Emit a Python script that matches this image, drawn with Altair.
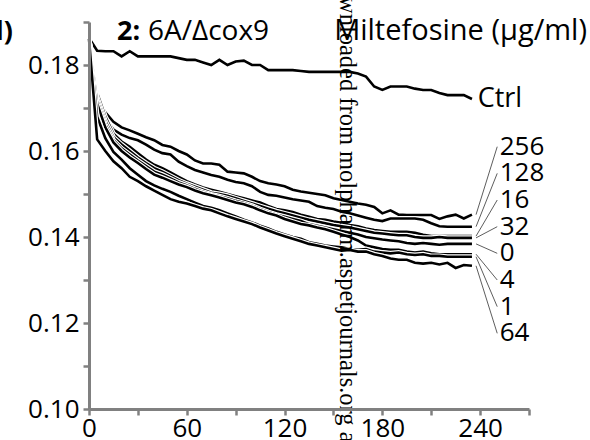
import altair as alt
import pandas as pd

times = [0, 5, 10, 15, 20, 25, 30, 35, 40, 45, 50, 55, 60, 65, 70, 75, 80, 85, 90, 95,
         100, 105, 110, 115, 120, 125, 130, 135, 140, 145, 150, 155, 160, 165, 170, 175,
         180, 185, 190, 195, 200, 205, 210, 215, 220, 225, 230, 235]

ctrl = [0.1863, 0.1833, 0.1832, 0.1832, 0.1820, 0.1832, 0.1820, 0.1820, 0.1820, 0.1820,
        0.1820, 0.1816, 0.1812, 0.1812, 0.1806, 0.1800, 0.1812, 0.1800, 0.1808, 0.1810,
        0.1800, 0.1800, 0.1788, 0.1788, 0.1788, 0.1788, 0.1786, 0.1784, 0.1784, 0.1784,
        0.1784, 0.1784, 0.1784, 0.1780, 0.1773, 0.1750, 0.1742, 0.1750, 0.1750, 0.1750,
        0.1745, 0.1742, 0.1742, 0.1735, 0.1730, 0.1730, 0.1730, 0.1721]
c256 = [0.1860, 0.1720, 0.1690, 0.1668, 0.1655, 0.1648, 0.1640, 0.1632, 0.1625, 0.1614,
        0.1610, 0.1600, 0.1592, 0.1578, 0.1571, 0.1571, 0.1568, 0.1552, 0.1550, 0.1548,
        0.1540, 0.1530, 0.1525, 0.1522, 0.1518, 0.1510, 0.1506, 0.1503, 0.1500, 0.1497,
        0.1490, 0.1486, 0.1482, 0.1478, 0.1475, 0.1470, 0.1455, 0.1462, 0.1452, 0.1451,
        0.1451, 0.1451, 0.1451, 0.1442, 0.1448, 0.1452, 0.1443, 0.1452]
c128 = [0.1860, 0.1700, 0.1675, 0.1650, 0.1638, 0.1630, 0.1625, 0.1615, 0.1603, 0.1595,
        0.1592, 0.1575, 0.1565, 0.1556, 0.1550, 0.1544, 0.1540, 0.1533, 0.1528, 0.1525,
        0.1518, 0.1505, 0.1498, 0.1496, 0.1492, 0.1488, 0.1485, 0.1482, 0.1472, 0.1468,
        0.1465, 0.1459, 0.1455, 0.1450, 0.1445, 0.1440, 0.1437, 0.1443, 0.1443, 0.1443,
        0.1443, 0.1440, 0.1432, 0.1425, 0.1424, 0.1424, 0.1424, 0.1424]
c16 = [0.1860, 0.1735, 0.1680, 0.1640, 0.1622, 0.1610, 0.1595, 0.1580, 0.1568, 0.1560,
       0.1550, 0.1540, 0.1530, 0.1522, 0.1515, 0.1510, 0.1505, 0.1500, 0.1495, 0.1490,
       0.1485, 0.1480, 0.1472, 0.1465, 0.1462, 0.1458, 0.1452, 0.1447, 0.1442, 0.1440,
       0.1436, 0.1433, 0.1428, 0.1425, 0.1420, 0.1416, 0.1414, 0.1412, 0.1412, 0.1412,
       0.1410, 0.1405, 0.1402, 0.1402, 0.1402, 0.1402, 0.1402, 0.1402]
c32 = [0.1860, 0.1725, 0.1670, 0.1632, 0.1615, 0.1600, 0.1585, 0.1572, 0.1560, 0.1552,
       0.1542, 0.1532, 0.1524, 0.1517, 0.1510, 0.1503, 0.1500, 0.1496, 0.1490, 0.1484,
       0.1478, 0.1472, 0.1466, 0.1460, 0.1455, 0.1450, 0.1445, 0.1440, 0.1436, 0.1432,
       0.1428, 0.1425, 0.1422, 0.1418, 0.1414, 0.1410, 0.1408, 0.1406, 0.1404, 0.1404,
       0.1400, 0.1398, 0.1398, 0.1400, 0.1398, 0.1398, 0.1398, 0.1398]
c0 = [0.1860, 0.1718, 0.1662, 0.1625, 0.1606, 0.1592, 0.1578, 0.1565, 0.1552, 0.1545,
      0.1536, 0.1527, 0.1520, 0.1512, 0.1505, 0.1499, 0.1495, 0.1490, 0.1484, 0.1479,
      0.1473, 0.1465, 0.1458, 0.1452, 0.1447, 0.1442, 0.1437, 0.1430, 0.1426, 0.1422,
      0.1418, 0.1414, 0.1410, 0.1406, 0.1400, 0.1397, 0.1394, 0.1392, 0.1390, 0.1386,
      0.1384, 0.1386, 0.1384, 0.1382, 0.1384, 0.1384, 0.1384, 0.1384]
c4 = [0.1860, 0.1710, 0.1655, 0.1620, 0.1600, 0.1585, 0.1572, 0.1558, 0.1545, 0.1538,
      0.1530, 0.1522, 0.1516, 0.1508, 0.1502, 0.1497, 0.1492, 0.1486, 0.1480, 0.1476,
      0.1470, 0.1462, 0.1455, 0.1450, 0.1442, 0.1436, 0.1430, 0.1427, 0.1422, 0.1418,
      0.1412, 0.1406, 0.1400, 0.1392, 0.1380, 0.1376, 0.1372, 0.1370, 0.1370, 0.1366,
      0.1364, 0.1366, 0.1362, 0.1360, 0.1360, 0.1360, 0.1360, 0.1360]
c1 = [0.1860, 0.1680, 0.1630, 0.1598, 0.1580, 0.1560, 0.1545, 0.1530, 0.1520, 0.1512,
      0.1505, 0.1496, 0.1488, 0.1480, 0.1472, 0.1468, 0.1462, 0.1455, 0.1448, 0.1440,
      0.1434, 0.1426, 0.1420, 0.1412, 0.1406, 0.1400, 0.1396, 0.1388, 0.1384, 0.1380,
      0.1378, 0.1376, 0.1372, 0.1370, 0.1372, 0.1366, 0.1364, 0.1362, 0.1364, 0.1360,
      0.1358, 0.1360, 0.1356, 0.1356, 0.1354, 0.1354, 0.1354, 0.1354]
c64 = [0.1860, 0.1627, 0.1600, 0.1576, 0.1560, 0.1540, 0.1530, 0.1518, 0.1508, 0.1498,
       0.1488, 0.1482, 0.1478, 0.1472, 0.1466, 0.1462, 0.1455, 0.1448, 0.1442, 0.1436,
       0.1430, 0.1422, 0.1415, 0.1408, 0.1402, 0.1396, 0.1390, 0.1384, 0.1380, 0.1376,
       0.1372, 0.1368, 0.1370, 0.1366, 0.1366, 0.1360, 0.1356, 0.1350, 0.1347, 0.1347,
       0.1340, 0.1338, 0.1340, 0.1336, 0.1340, 0.1328, 0.1335, 0.1333]

series_names = ["Ctrl", "256", "128", "16", "32", "0", "4", "1", "64"]
series_values = [ctrl, c256, c128, c16, c32, c0, c4, c1, c64]
label_names = ["256", "128", "16", "32", "0", "4", "1", "64"]

y_ticks = [0.10, 0.11, 0.12, 0.13, 0.14, 0.15, 0.16, 0.17, 0.18, 0.19]
x_ticks = [0, 30, 60, 90, 120, 150, 180, 210, 240, 270]

rows = []
for name, vals in zip(series_names, series_values):
    for t, v in zip(times, vals):
        rows.append({"series": name, "time": t, "od": v})
df = pd.DataFrame(rows)

FONT = "Open Sans"
xs = alt.Scale(domain=[0, 270], nice=False)
ys = alt.Scale(domain=[0.10, 0.19], nice=False, zero=False)

x_axis = alt.Axis(values=x_ticks, title=None, grid=False,
                  labelExpr="datum.value % 60 == 0 && datum.value <= 240 ? format(datum.value, 'd') : ''",
                  domainColor="#808080", domainWidth=3, tickColor="#808080", tickWidth=2.5,
                  tickSize=6, labelFont=FONT, labelFontSize=26, labelColor="black",
                  labelPadding=0, labelFlush=False, labelOverlap=False, zindex=1)
y_axis = alt.Axis(values=y_ticks, title=None, grid=False,
                  labelExpr="(round(datum.value * 100) % 2 == 0 && datum.value < 0.185) ? format(datum.value, '.2f') : ''",
                  domainColor="#808080", domainWidth=3, tickColor="#808080", tickWidth=2.5,
                  tickSize=6, labelFont=FONT, labelFontSize=26, labelColor="black",
                  labelPadding=4, labelFlush=False, labelOverlap=False, zindex=1)

layers = []
for name in series_names:
    base = alt.Chart(df).transform_filter(alt.datum.series == name)
    enc = dict(x=alt.X("time:Q", scale=xs, axis=x_axis), y=alt.Y("od:Q", scale=ys, axis=y_axis))
    layers.append(base.mark_line(color="white", strokeWidth=5).encode(**enc))
    layers.append(base.mark_line(color="black", strokeWidth=2.6).encode(**enc))

# leader lines and labels
ends = [series_values[series_names.index(n)][-1] for n in label_names]
lab_df = pd.DataFrame({
    "name": label_names,
    "yend": ends,
    "ylab": [0.1610 - i * 0.0062 for i in range(len(label_names))],
    "x0": [237.5] * len(label_names),
    "x1": [250.5] * len(label_names),
    "xt": [252.0] * len(label_names),
})
leaders = alt.Chart(lab_df).mark_rule(color="#333333", strokeWidth=0.8).encode(
    x=alt.X("x0:Q", scale=xs, axis=x_axis), x2="x1:Q",
    y=alt.Y("yend:Q", scale=ys, axis=y_axis), y2="ylab:Q")
labels = alt.Chart(lab_df).mark_text(align="left", baseline="middle", font=FONT,
                                     fontSize=26, color="black").encode(
    x=alt.X("xt:Q", scale=xs, axis=x_axis), y=alt.Y("ylab:Q", scale=ys, axis=y_axis), text="name:N")

ctrl_df = pd.DataFrame({"name": ["Ctrl"], "x": [238.5], "y": [ctrl[-1]]})
ctrl_label = alt.Chart(ctrl_df).mark_text(align="left", baseline="middle", font=FONT,
                                          fontSize=27, color="black").encode(
    x=alt.X("x:Q", scale=xs, axis=x_axis), y=alt.Y("y:Q", scale=ys, axis=y_axis), text="name:N")

def note(txt, x, y, **kw):
    return alt.Chart(pd.DataFrame({"t": [txt]})).mark_text(**kw).encode(
        x=alt.value(x), y=alt.value(y), text="t:N")

title_a = note("2:", 28, 18, align="left", baseline="alphabetic", font=FONT, fontSize=27,
               fontWeight="bold", color="black")
title_b = note("6A/\u0394cox9", 59, 18, align="left", baseline="alphabetic", font=FONT,
               fontSize=28, color="black")
title_c = note("Miltefosine (\u03bcg/ml)", 498, 18, align="right", baseline="alphabetic",
               font=FONT, fontSize=29, color="black")
ylab_cut = note("l)", -76, 18, align="right", baseline="alphabetic", font=FONT, fontSize=27,
                fontWeight="bold", color="black")
watermark = note("Downloaded from molpharm.aspetjournals.org at ASPET Journals", 258, -56,
                 align="left", baseline="middle", angle=90, font="Liberation Serif",
                 fontSize=24.5, color="black")

chart = alt.layer(*layers, leaders, labels, ctrl_label, title_a, title_b, title_c,
                  ylab_cut, watermark).properties(
    width=440, height=387,
    autosize=alt.AutoSizeParams(type="none"),
    padding={"left": 89, "top": 22, "right": 61, "bottom": 31},
).configure_view(stroke=None)

chart.save("out.html", embed_options={"renderer": "svg", "actions": False})
